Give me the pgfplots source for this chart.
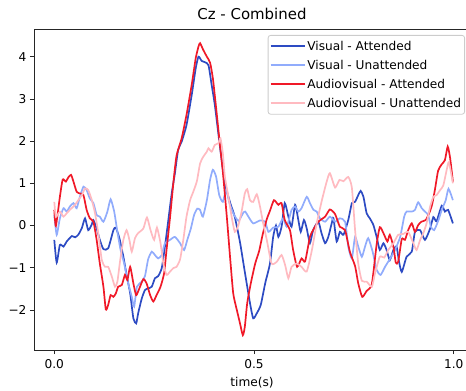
\documentclass[border=0pt]{standalone}
\usepackage{fontspec}
\setmainfont{DejaVu Sans}
\usepackage{pgfplots}
\pgfplotsset{compat=1.18}
\definecolor{va}{RGB}{45,75,195}
\definecolor{vu}{RGB}{145,172,252}
\definecolor{aa}{RGB}{240,25,40}
\definecolor{au}{RGB}{255,186,192}
\begin{document}
\begin{tikzpicture}
\useasboundingbox (0,0) rectangle (466bp,391bp);
\begin{axis}[
  at={(34bp,41bp)}, anchor=south west,
  scale only axis, width=436bp, height=320.3bp,
  xmin=-0.0508, xmax=1.0408, ymin=-2.950, ymax=4.640,
  xtick={0,0.5,1}, xticklabels={0.0,0.5,1.0},
  ytick={-2,-1,0,1,2,3,4}, yticklabels={−2,−1,0,1,2,3,4},
  tick align=outside, xtick pos=left, ytick pos=left,
  major tick length=4bp,
  tick style={black!85, line width=0.8bp},
  axis line style={black!85, line width=0.8bp},
  ticklabel style={font=\fontsize{12.2}{13}\selectfont},
  xticklabel style={yshift=-1.5bp},
  xlabel={time(s)}, xlabel style={font=\fontsize{12.2}{13}\selectfont, yshift=-2.5bp},
  title={Cz - Combined},
  title style={font=\fontsize{15}{17}\selectfont, anchor=base, at={(0.5,1)}, yshift=4.5bp},
  legend cell align=left,
  legend style={at={(1,1)}, anchor=north east, xshift=-5bp, yshift=-5.3bp,
    draw=black!20, line width=0.8bp, rounded corners=2.5bp, fill=white,
    font=\fontsize{12.2}{13}\selectfont, inner xsep=2bp, inner ysep=4bp,
    row sep=5.3bp, nodes={inner sep=1.5bp}},
  legend image code/.code={\draw[#1] (0bp,0.3bp) -- (27bp,0.3bp); \path (0bp,0bp) -- (34bp,0bp);},
  every axis plot/.append style={line width=1.7bp, smooth, tension=0.35},
]
\addplot[va] coordinates {
(0.000,-0.34) (0.006,-0.88) (0.014,-0.46) (0.023,-0.50) (0.031,-0.38) (0.044,-0.25)
(0.052,-0.28) (0.060,-0.22) (0.069,-0.06) (0.077,0.17) (0.085,-0.11) (0.094,0.03)
(0.098,0.13) (0.106,-0.07) (0.114,-0.34) (0.123,-0.56) (0.135,-0.54) (0.148,-0.11)
(0.154,-0.05) (0.163,-0.30) (0.173,-0.74) (0.181,-1.17) (0.190,-1.61) (0.198,-2.20)
(0.205,-2.32) (0.210,-2.08) (0.219,-1.73) (0.227,-1.53) (0.235,-1.49) (0.244,-1.45)
(0.252,-1.25) (0.260,-1.20) (0.269,-1.01) (0.277,-0.50) (0.285,0.09) (0.294,0.76)
(0.302,1.24) (0.310,1.79) (0.319,1.99) (0.331,2.38) (0.344,3.09) (0.354,3.72)
(0.361,4.00) (0.369,3.90) (0.377,3.87) (0.386,3.80) (0.394,3.33) (0.402,2.85)
(0.415,1.85) (0.427,1.00) (0.440,0.55) (0.452,0.20) (0.465,-0.40) (0.477,-1.10)
(0.490,-1.84) (0.498,-2.20) (0.507,-2.08) (0.517,-1.88) (0.528,-1.37) (0.540,-0.90)
(0.548,-0.27) (0.555,0.00) (0.561,-0.27) (0.569,-0.03) (0.577,0.53) (0.586,0.21)
(0.594,-0.03) (0.603,0.49) (0.611,0.13) (0.617,-0.15) (0.625,0.13) (0.632,-0.07)
(0.640,-0.42) (0.648,-0.11) (0.661,0.09) (0.669,-0.18) (0.678,-0.42) (0.686,-0.27)
(0.695,0.07) (0.699,0.17) (0.707,-0.38) (0.715,-0.15) (0.724,-0.22) (0.736,0.13)
(0.745,0.53) (0.753,0.56) (0.761,0.72) (0.767,0.82) (0.774,0.68) (0.782,0.29)
(0.790,0.17) (0.799,0.01) (0.807,-0.27) (0.815,-0.58) (0.824,-0.42) (0.832,-0.58)
(0.840,-0.82) (0.849,-0.58) (0.857,-0.50) (0.863,-0.85) (0.870,-1.10) (0.882,-0.74)
(0.895,-0.62) (0.903,-0.15) (0.916,-0.11) (0.928,-0.34) (0.941,-0.07) (0.949,0.20)
(0.957,0.10) (0.970,0.47) (0.978,0.33) (0.986,0.37) (0.998,0.05)
};
\addlegendentry{Visual - Attended}
\addplot[vu] coordinates {
(0.000,0.25) (0.006,-0.22) (0.014,0.17) (0.023,0.41) (0.031,0.33) (0.039,0.45)
(0.048,0.53) (0.056,0.41) (0.064,0.68) (0.073,0.92) (0.081,0.84) (0.089,0.64)
(0.098,0.53) (0.106,0.25) (0.114,0.21) (0.123,0.09) (0.133,0.33) (0.141,0.62)
(0.150,0.33) (0.158,-0.15) (0.166,-0.58) (0.175,-0.90) (0.183,-1.29) (0.194,-1.69)
(0.200,-1.92) (0.207,-1.45) (0.219,-1.33) (0.227,-1.20) (0.235,-0.80) (0.244,-0.62)
(0.252,-0.70) (0.260,-0.78) (0.269,-0.70) (0.277,-0.42) (0.290,-0.34) (0.302,-0.27)
(0.315,-0.42) (0.325,-0.58) (0.333,-0.34) (0.342,-0.07) (0.350,0.25) (0.358,0.40)
(0.365,0.37) (0.372,0.21) (0.382,0.60) (0.390,1.08) (0.397,1.32) (0.405,1.16)
(0.413,0.72) (0.422,0.56) (0.430,0.84) (0.438,0.55) (0.448,0.29) (0.461,0.11)
(0.473,0.30) (0.478,0.33) (0.486,0.21) (0.498,0.05) (0.515,0.12) (0.528,0.09)
(0.536,-0.15) (0.548,-0.05) (0.561,-0.03) (0.573,0.17) (0.582,-0.03) (0.594,0.37)
(0.603,0.45) (0.611,0.33) (0.619,0.41) (0.632,0.68) (0.640,0.53) (0.649,0.37)
(0.657,0.33) (0.665,0.17) (0.678,0.09) (0.690,0.21) (0.703,0.09) (0.715,0.17)
(0.728,0.09) (0.736,-0.50) (0.745,-0.78) (0.753,-0.27) (0.761,-0.50) (0.770,-0.74)
(0.778,-0.50) (0.786,-0.30) (0.797,-0.62) (0.807,-1.05) (0.817,-1.17) (0.828,-0.98)
(0.841,-0.78) (0.853,-0.58) (0.866,-0.27) (0.876,0.21) (0.882,0.33) (0.895,0.33)
(0.903,0.37) (0.911,0.55) (0.920,0.41) (0.928,0.33) (0.936,0.25) (0.943,-0.03)
(0.951,-0.11) (0.962,0.13) (0.970,0.37) (0.980,0.60) (0.987,0.87) (0.998,0.60)
};
\addlegendentry{Visual - Unattended}
\addplot[aa] coordinates {
(0.000,0.37) (0.004,-0.01) (0.014,0.68) (0.021,1.09) (0.029,1.04) (0.035,1.14)
(0.042,1.20) (0.048,1.04) (0.056,0.80) (0.064,0.76) (0.073,0.72) (0.081,0.37)
(0.089,0.17) (0.098,0.09) (0.106,-0.34) (0.114,-0.90) (0.123,-1.45) (0.129,-1.99)
(0.135,-1.88) (0.141,-1.65) (0.148,-1.69) (0.154,-1.61) (0.160,-1.45) (0.169,-1.41)
(0.177,-1.17) (0.183,-1.29) (0.190,-0.98) (0.198,-1.37) (0.205,-1.65) (0.213,-1.49)
(0.223,-1.27) (0.231,-1.37) (0.240,-1.65) (0.248,-1.80) (0.256,-1.65) (0.266,-1.45)
(0.275,-1.13) (0.281,-0.58) (0.290,0.21) (0.298,1.00) (0.306,1.65) (0.319,2.07)
(0.331,2.62) (0.344,3.33) (0.354,3.96) (0.361,4.24) (0.365,4.32) (0.373,4.16)
(0.382,4.00) (0.390,3.86) (0.397,3.49) (0.405,2.80) (0.413,2.07) (0.422,1.27)
(0.432,0.20) (0.440,-0.74) (0.448,-1.61) (0.457,-2.00) (0.465,-2.32) (0.472,-2.60)
(0.477,-2.40) (0.483,-1.84) (0.492,-1.37) (0.503,-0.90) (0.513,-0.60) (0.522,-0.20)
(0.532,0.15) (0.540,0.35) (0.550,0.60) (0.561,0.49) (0.569,0.53) (0.577,0.13)
(0.590,-0.11) (0.598,-0.58) (0.608,-0.98) (0.619,-0.78) (0.628,-0.85) (0.640,-0.27)
(0.648,-0.11) (0.661,0.09) (0.678,0.21) (0.690,0.38) (0.703,0.27) (0.715,-0.03)
(0.728,-0.11) (0.740,-0.62) (0.753,-0.96) (0.761,-1.37) (0.771,-1.69) (0.782,-1.55)
(0.795,-1.39) (0.807,-0.45) (0.815,-0.04) (0.824,-0.18) (0.834,-0.38) (0.840,-0.22)
(0.849,-0.50) (0.855,-0.88) (0.861,-0.86) (0.870,-0.32) (0.878,-0.34) (0.886,-0.11)
(0.895,0.05) (0.903,-0.15) (0.911,0.01) (0.919,0.09) (0.930,0.13) (0.939,0.30)
(0.946,0.50) (0.953,0.85) (0.961,1.30) (0.970,1.45) (0.978,1.55) (0.985,1.87)
(0.991,1.60) (0.998,1.04)
};
\addlegendentry{Audiovisual - Attended}
\addplot[au] coordinates {
(0.000,0.56) (0.004,0.21) (0.014,0.33) (0.023,0.21) (0.031,0.29) (0.039,0.37)
(0.052,0.49) (0.060,0.60) (0.069,0.72) (0.077,0.88) (0.085,0.84) (0.094,0.60)
(0.102,0.29) (0.110,-0.18) (0.119,-0.82) (0.127,-0.98) (0.135,-0.98) (0.144,-1.21)
(0.152,-1.45) (0.158,-1.33) (0.165,-0.82) (0.173,-0.34) (0.181,-0.11) (0.188,-0.34)
(0.194,-0.62) (0.202,-0.30) (0.210,-0.18) (0.223,-0.07) (0.232,0.19) (0.241,-0.11)
(0.250,-0.34) (0.257,-0.05) (0.266,-0.42) (0.273,-0.90) (0.281,-1.17) (0.290,-1.09)
(0.298,-1.01) (0.306,-0.98) (0.315,-0.80) (0.323,-0.34) (0.331,0.21) (0.340,0.60)
(0.348,0.80) (0.357,1.05) (0.365,1.47) (0.373,1.63) (0.382,1.75) (0.386,1.83)
(0.394,1.75) (0.402,1.91) (0.411,1.95) (0.416,2.07) (0.422,1.71) (0.427,1.16)
(0.436,0.68) (0.444,0.21) (0.452,-0.15) (0.461,0.01) (0.469,0.33) (0.477,0.76)
(0.483,0.86) (0.490,0.60) (0.498,0.56) (0.507,0.74) (0.515,0.45) (0.523,0.05)
(0.532,-0.34) (0.544,-0.90) (0.557,-0.86) (0.569,-0.70) (0.578,-0.94) (0.586,-1.25)
(0.594,-0.98) (0.607,-0.90) (0.619,-0.98) (0.632,-1.09) (0.645,-0.58) (0.657,0.05)
(0.670,0.60) (0.682,1.04) (0.690,1.24) (0.703,0.90) (0.714,1.08) (0.724,1.05)
(0.736,1.15) (0.745,0.90) (0.753,-0.10) (0.761,-0.90) (0.770,-1.31) (0.782,-1.33)
(0.795,-1.45) (0.803,-1.13) (0.815,-0.74) (0.826,-0.76) (0.836,-0.58) (0.849,-0.42)
(0.861,-0.22) (0.874,-0.20) (0.886,-0.15) (0.899,-0.42) (0.907,-0.58) (0.916,-0.34)
(0.924,-0.18) (0.932,0.05) (0.941,0.45) (0.949,0.68) (0.957,0.72) (0.966,0.84)
(0.974,0.95) (0.982,1.30) (0.988,1.50) (0.998,1.00)
};
\addlegendentry{Audiovisual - Unattended}
\end{axis}
\end{tikzpicture}
\end{document}
